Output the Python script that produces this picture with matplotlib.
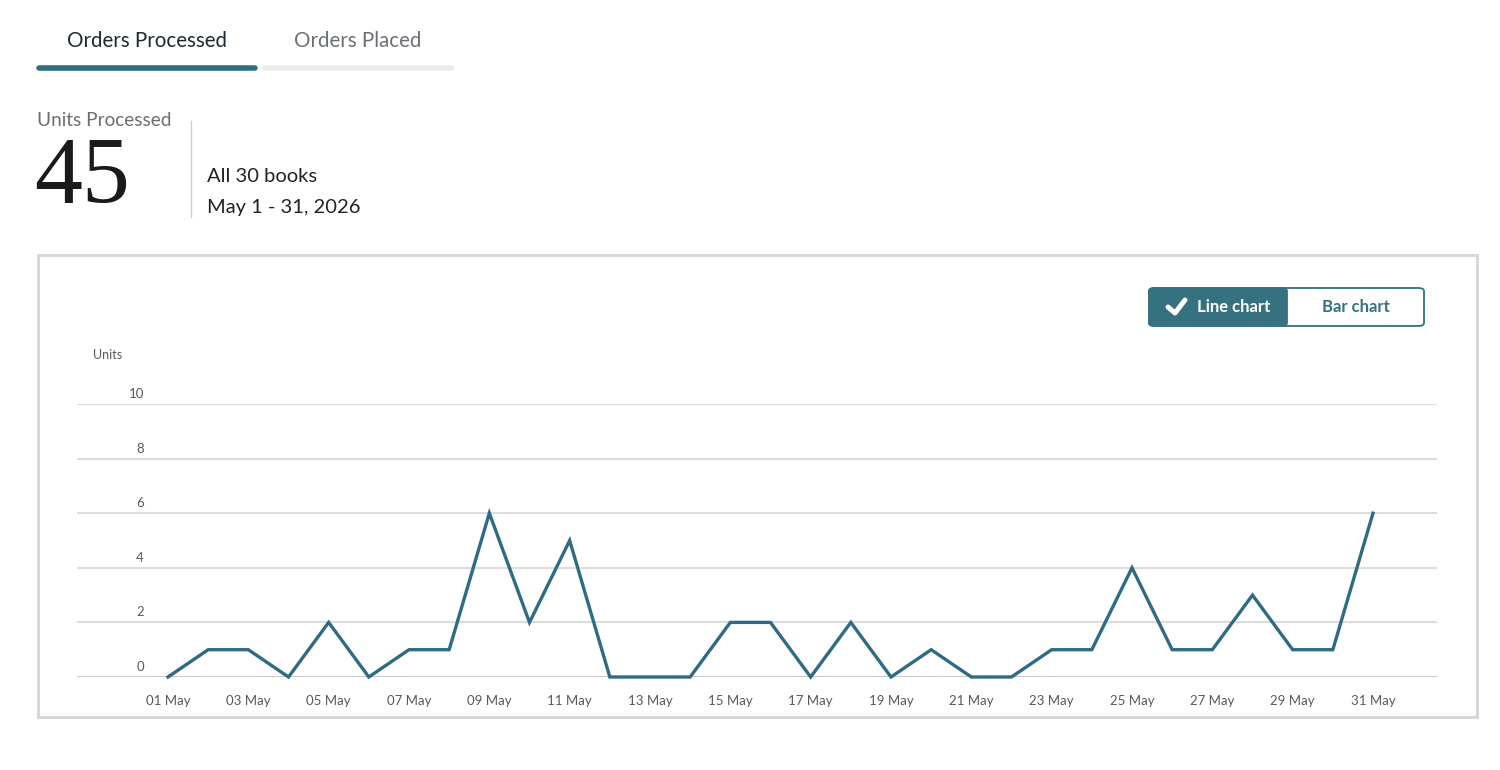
import matplotlib
matplotlib.use("Agg")
import matplotlib.pyplot as plt
from matplotlib.patches import FancyBboxPatch, Rectangle
from matplotlib.lines import Line2D
import matplotlib.transforms as mtransforms

# ---- data ----
days = list(range(1, 32))
units = [0, 1, 1, 0, 2, 0, 1, 1, 6, 2, 5, 0, 0, 0, 2, 2, 0, 2, 0, 1,
         0, 0, 1, 1, 4, 1, 1, 3, 1, 1, 6]
xtick_days = list(range(1, 32, 2))
xtick_labels = [f"{d:02d} May" for d in xtick_days]
ytick_vals = [0, 2, 4, 6, 8, 10]
ytick_labels = [str(v) for v in ytick_vals]
total_units = 45

W, H = 1500, 770
TEAL = "#2f6b85"
BTN = "#35717f"
SANS = "Lato"

fig = plt.figure(figsize=(W / 100, H / 100), dpi=100)
fig.patch.set_facecolor("white")


def fx(x):
    return x / W


def fy(y):
    return 1 - y / H


# ---- tabs ----
fig.text(fx(147), fy(41), "Orders Processed", fontsize=14.8, color="#1f2933",
         family=SANS, ha="center", va="center")
fig.text(fx(358), fy(41), "Orders Placed", fontsize=14.8, color="#6b7075",
         family=SANS, ha="center", va="center")
fig.add_artist(Line2D([fx(39), fx(255)], [fy(68), fy(68)], color="#2e6e80",
                      lw=4, solid_capstyle="round"))
fig.add_artist(Line2D([fx(265), fx(452)], [fy(68), fy(68)], color="#ebebeb",
                      lw=4, solid_capstyle="round"))

# ---- header ----
fig.text(fx(37), fy(121), "Units Processed", fontsize=13.7, color="#6b6f73",
         family=SANS, ha="left", va="center")
fig.text(fx(34), fy(180), str(total_units), fontsize=69, color="#1a1a1a",
         family="Liberation Serif", ha="left", va="center")
fig.add_artist(Line2D([fx(191), fx(191)], [fy(121), fy(217)], color="#cfcfcf", lw=1))
fig.text(fx(207), fy(176), "All 30 books", fontsize=14.5, color="#1f2326",
         family=SANS, ha="left", va="center")
fig.text(fx(207), fy(207), "May 1 - 31, 2026", fontsize=14.5, color="#1f2326",
         family=SANS, ha="left", va="center")

# ---- outer box ----
fig.add_artist(Rectangle((fx(38), fy(717)), fx(1477) - fx(38), fy(255) - fy(717),
                         fill=False, edgecolor="#d6d6d6", lw=2))

# ---- toggle button ----
bx0, bx1, bxm, by0, by1 = 1149, 1424, 1287, 288, 326
fig.add_artist(FancyBboxPatch((fx(bx0), fy(by1)), fx(bx1) - fx(bx0), fy(by0) - fy(by1),
                              boxstyle="round,pad=0,rounding_size=0.004",
                              facecolor="white", edgecolor=BTN, lw=1.3))
fig.add_artist(FancyBboxPatch((fx(bx0), fy(by1)), fx(bxm) - fx(bx0), fy(by0) - fy(by1),
                              boxstyle="round,pad=0,rounding_size=0.004",
                              facecolor=BTN, edgecolor=BTN, lw=1.3))
fig.add_artist(Rectangle((fx(bxm - 8), fy(by1)), fx(8), fy(by0) - fy(by1),
                         facecolor=BTN, edgecolor="none"))
fig.add_artist(Line2D([fx(1168), fx(1175), fx(1185)], [fy(307), fy(313), fy(300)],
                      color="white", lw=3.6, solid_capstyle="round",
                      solid_joinstyle="round"))
fig.text(fx(1234), fy(307), "Line chart", fontsize=12, color="white",
         family=SANS, weight="bold", ha="center", va="center")
fig.text(fx(1356), fy(307), "Bar chart", fontsize=12, color=BTN,
         family=SANS, weight="bold", ha="center", va="center")

# ---- chart axes ----
ax = fig.add_axes([fx(77), fy(677), fx(1437) - fx(77), fy(404) - fy(677)])
px_per_day = (1373 - 168) / 30
xmin = 1 - (168 - 77) / px_per_day
xmax = 31 + (1437 - 1373) / px_per_day
ax.set_xlim(xmin, xmax)
ax.set_ylim(0, 10)
ax.patch.set_alpha(0)
for s in ax.spines.values():
    s.set_visible(False)

ax.set_yticks(ytick_vals)
ax.set_yticklabels([])
ax.tick_params(axis="y", length=0)
for v in ytick_vals:
    ax.axhline(v, color="#c9c9c9" if v == 0 else "#dcdcdc", lw=1.5, zorder=1)

off = mtransforms.ScaledTranslation(0, 10 / 100, fig.dpi_scale_trans)
ytrans = ax.get_yaxis_transform() + off
for v, lab in zip(ytick_vals, ytick_labels):
    ax.text((144 - 77) / 1360, v, lab, transform=ytrans, ha="right", va="center",
            fontsize=9.5, color="#555a5e", family=SANS)

ax.set_xticks(xtick_days)
ax.set_xticklabels(xtick_labels, fontsize=9.5, color="#555a5e", family=SANS)
ax.tick_params(axis="x", length=0, pad=13)

ax.plot(days, units, color=TEAL, lw=2.4, solid_joinstyle="miter", zorder=3,
        clip_on=False)

fig.text(fx(93), fy(355), "Units", fontsize=9, color="#555a5e", family=SANS,
         ha="left", va="center")

fig.savefig("out.png", dpi=100, facecolor="white")
